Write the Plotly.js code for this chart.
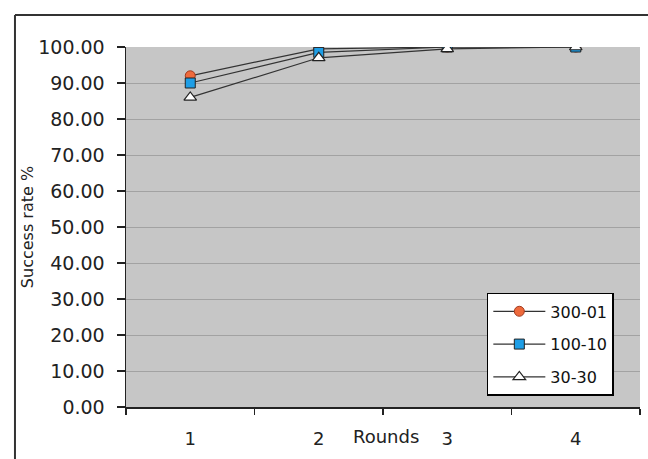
<!DOCTYPE html>
<html>
<head>
<meta charset="utf-8">
<script src="https://cdn.plot.ly/plotly-3.0.1.min.js"></script>
<style>
html,body{margin:0;padding:0;background:#fff;}
#chart{width:648px;height:459px;}
</style>
</head>
<body>
<div id="chart"></div>
<script>
const rounds = ["1", "2", "3", "4"];
const s300_01 = [92.0, 99.5, 100.0, 100.0];
const s100_10 = [90.0, 98.5, 100.0, 100.0];
const s30_30 = [86.0, 97.0, 99.5, 100.0];
const yTicks = [0, 10, 20, 30, 40, 50, 60, 70, 80, 90, 100];
const yTickText = yTicks.map(v => v.toFixed(2));

const font = "DejaVu Sans, Liberation Sans, Arial, sans-serif";
const lineStyle = {color: "#333333", width: 1.2};

const traces = [
  {x: rounds, y: s300_01, name: "300-01", type: "scatter", mode: "lines+markers",
   legendgroup: "a", line: lineStyle,
   marker: {symbol: "circle", size: 10, color: "#ee6a3c", line: {color: "#a03a20", width: 1}}},
  {x: rounds, y: s100_10, name: "100-10", type: "scatter", mode: "lines+markers",
   legendgroup: "b", line: lineStyle,
   marker: {symbol: "square", size: 10, color: "#1e9ee6", line: {color: "#222", width: 1}}},
  {x: rounds, y: s30_30, name: "30-30", type: "scatter", mode: "lines+markers",
   legendgroup: "c", line: lineStyle,
   marker: {symbol: "triangle-up", size: 11, color: "#ffffff", line: {color: "#222", width: 1.2}}}
];

const layout = {
  width: 648, height: 459,
  margin: {l: 126, r: 8, t: 47, b: 52},
  paper_bgcolor: "#ffffff",
  plot_bgcolor: "#c6c6c6",
  font: {family: font, size: 18, color: "#222"},
  showlegend: true,
  legend: {
    x: 0.702, y: 0.317, xanchor: "left", yanchor: "top",
    bgcolor: "#ffffff", bordercolor: "#000", borderwidth: 1.5,
    font: {family: font, size: 16, color: "#111"},
    itemwidth: 52, tracegroupgap: 9
  },
  xaxis: {
    type: "category",
    tickson: "boundaries",
    ticks: "outside", ticklen: 6, tickcolor: "#222", tickwidth: 1.5,
    showline: true, linecolor: "#222", linewidth: 1.5,
    showgrid: false, zeroline: false,
    ticklabelstandoff: 15,
    tickfont: {family: font, size: 18, color: "#222"},
    range: [-0.5, 3.5]
  },
  yaxis: {
    range: [0, 100],
    tickvals: yTicks, ticktext: yTickText,
    ticks: "outside", ticklen: 8, tickcolor: "#222", tickwidth: 1.5,
    showline: true, linecolor: "#222", linewidth: 1.5,
    showgrid: true, gridcolor: "#a2a2a2", gridwidth: 1,
    zeroline: false,
    ticklabelstandoff: 8,
    tickfont: {family: font, size: 19, color: "#222"},
    title: {text: "Success rate %", font: {family: font, size: 16, color: "#222"}, standoff: 0}
  },
  annotations: [
    {text: "Rounds", xref: "paper", yref: "paper", x: 0.505, y: -0.083,
     xanchor: "center", yanchor: "middle", showarrow: false,
     font: {family: font, size: 18, color: "#222"}}
  ],
  shapes: [
    {type: "line", xref: "paper", yref: "paper", x0: -0.216, x1: 1.1, y0: 1.089, y1: 1.089,
     line: {color: "#333", width: 2}},
    {type: "line", xref: "paper", yref: "paper", x0: -0.216, x1: -0.216, y0: 1.089, y1: -0.2,
     line: {color: "#333", width: 2}}
  ]
};

Plotly.newPlot("chart", traces, layout, {displayModeBar: false, staticPlot: true});
</script>
</body>
</html>
